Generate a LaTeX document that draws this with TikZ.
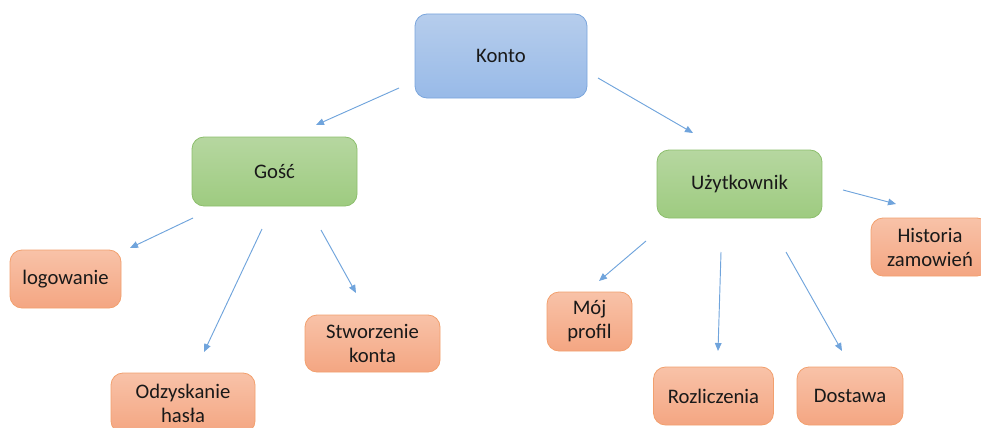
\documentclass[tikz,border=0pt]{standalone}
\usepackage{fontspec}
\setmainfont{Carlito}
\usetikzlibrary{arrows.meta,positioning}
\definecolor{kontotop}{RGB}{182,205,236}
\definecolor{kontobot}{RGB}{152,186,232}
\definecolor{kontoline}{RGB}{122,165,220}
\definecolor{gosctop}{RGB}{182,215,160}
\definecolor{goscbot}{RGB}{158,203,128}
\definecolor{goscline}{RGB}{140,190,108}
\definecolor{leaftop}{RGB}{248,194,168}
\definecolor{leafbot}{RGB}{244,166,130}
\definecolor{leafline}{RGB}{242,160,110}
\definecolor{linkblue}{RGB}{112,164,220}
\tikzset{
    % Basic box style
    box/.style={
        rectangle, rounded corners=9pt, line width=0.6pt,
        align=center, inner sep=0pt, text=black!90,
        font=\fontsize{15.5}{18}\selectfont
    },
    % Colored variants - by level
    rootbox/.style={box, draw=kontoline, top color=kontotop, bottom color=kontobot},
    midbox/.style={box, draw=goscline, top color=gosctop, bottom color=goscbot},
    leafbox/.style={box, draw=leafline, top color=leaftop, bottom color=leafbot},
    % Connector
    link/.style={draw=linkblue, line width=0.7pt,
        -{Triangle[length=6pt,width=5pt]}},
}
\begin{document}
\begin{tikzpicture}[x=0.75pt,y=-0.75pt]
  \clip (0,0) rectangle (981,428);
  \useasboundingbox (0,0) rectangle (981,428);

  % root
  \node[rootbox,minimum width=129pt,minimum height=63pt] (konto) at (501,56) {Konto};

  % second level
  \node[midbox,minimum width=123.75pt,minimum height=51.75pt] (gosc) at (274.5,171.5) {Gość};
  \node[midbox,minimum width=123.75pt,minimum height=51pt] (uzyt) at (739.5,184) {Użytkownik};

  % leaves of Gość
  \node[leafbox,minimum width=83.25pt,minimum height=43.5pt] (logo) at (65.5,279) {logowanie};
  \node[leafbox,minimum width=108pt,minimum height=45pt] (odzysk) at (183,403) {Odzyskanie\\hasła};
  \node[leafbox,minimum width=101.25pt,minimum height=42.75pt] (stworz) at (372.5,343.5) {Stworzenie\\konta};

  % leaves of Użytkownik
  \node[leafbox,minimum width=63.75pt,minimum height=44.25pt] (profil) at (589.5,321.5) {Mój\\profil};
  \node[leafbox,minimum width=90pt,minimum height=43.5pt] (rozl) at (713.5,396) {Rozliczenia};
  \node[leafbox,minimum width=79.5pt,minimum height=43.5pt] (dost) at (850,396) {Dostawa};
  \node[leafbox,minimum width=88.5pt,minimum height=43.5pt] (hist) at (930,247) {Historia\\zamowień};

  % arrow ends (arrows float between the boxes)
  \coordinate (konto-gosc-a) at (399,88);   \coordinate (konto-gosc-b) at (316,125);
  \coordinate (konto-uzyt-a) at (598,78);   \coordinate (konto-uzyt-b) at (693,133);
  \coordinate (gosc-logo-a) at (193,218);   \coordinate (gosc-logo-b) at (130,248);
  \coordinate (gosc-odzysk-a) at (262,229); \coordinate (gosc-odzysk-b) at (204,352);
  \coordinate (gosc-stworz-a) at (321,230); \coordinate (gosc-stworz-b) at (356,293);
  \coordinate (uzyt-profil-a) at (646,241); \coordinate (uzyt-profil-b) at (599,281);
  \coordinate (uzyt-rozl-a) at (721,252);   \coordinate (uzyt-rozl-b) at (718,351);
  \coordinate (uzyt-dost-a) at (786,252);   \coordinate (uzyt-dost-b) at (842,351);
  \coordinate (uzyt-hist-a) at (843,190);   \coordinate (uzyt-hist-b) at (896,204);

  \foreach \e in {konto-gosc,konto-uzyt,gosc-logo,gosc-odzysk,gosc-stworz,
                  uzyt-profil,uzyt-rozl,uzyt-dost,uzyt-hist}
    \draw[link] (\e-a) -- (\e-b);
\end{tikzpicture}
\end{document}
